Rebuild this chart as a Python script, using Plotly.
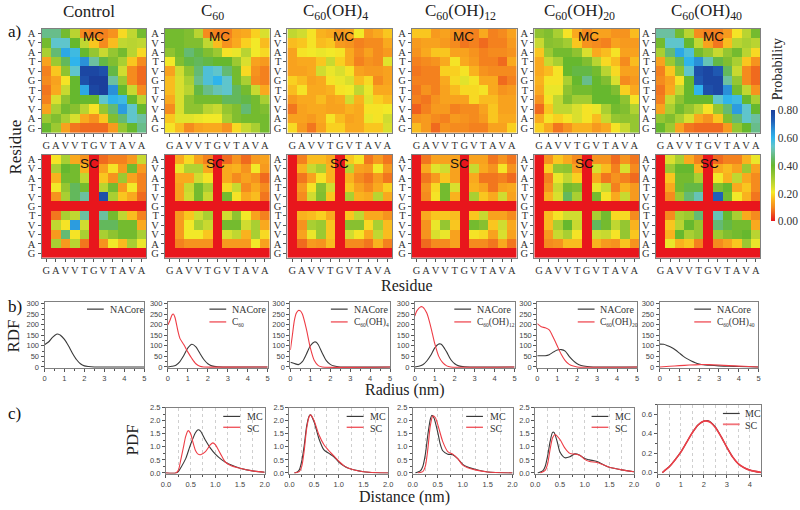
import plotly.graph_objects as go

RESIDUES = ["G", "A", "V", "V", "T", "G", "V", "T", "A", "V", "A"]
TITLES = ["Control", "C<sub>60</sub>", "C<sub>60</sub>(OH)<sub>4</sub>", "C<sub>60</sub>(OH)<sub>12</sub>",
          "C<sub>60</sub>(OH)<sub>20</sub>", "C<sub>60</sub>(OH)<sub>40</sub>"]

# heat maps: rows listed top (A) to bottom (G)
MC_CONTROL = [
 [.48,.48,.38,.28,.10,.09,.09,.11,.19,.27,.38],
 [.38,.54,.54,.40,.27,.17,.10,.16,.27,.28,.27],
 [.30,.46,.62,.58,.40,.33,.26,.33,.38,.28,.19],
 [.13,.32,.44,.60,.66,.50,.42,.36,.30,.17,.10],
 [.09,.17,.34,.54,.78,.78,.76,.42,.25,.10,.07],
 [.10,.13,.20,.40,.76,.80,.80,.50,.32,.10,.07],
 [.08,.14,.26,.40,.62,.78,.80,.66,.40,.26,.10],
 [.09,.24,.34,.40,.40,.40,.54,.60,.58,.40,.28],
 [.13,.30,.38,.35,.28,.20,.33,.46,.64,.54,.40],
 [.32,.36,.30,.24,.14,.11,.17,.36,.46,.54,.50],
 [.40,.32,.13,.08,.07,.07,.07,.12,.33,.40,.48]]
MC_C60 = [
 [.38,.38,.36,.28,.10,.09,.09,.13,.14,.18,.24],
 [.38,.38,.36,.36,.27,.16,.11,.14,.18,.21,.16],
 [.34,.38,.46,.42,.36,.32,.20,.22,.28,.21,.19],
 [.21,.36,.42,.44,.42,.40,.40,.32,.24,.13,.12],
 [.13,.25,.34,.46,.56,.54,.46,.38,.19,.11,.09],
 [.16,.24,.30,.48,.56,.60,.54,.38,.30,.10,.09],
 [.16,.24,.28,.42,.48,.52,.54,.44,.38,.26,.14],
 [.14,.24,.34,.38,.38,.38,.44,.44,.42,.38,.30],
 [.10,.24,.34,.34,.28,.26,.33,.36,.46,.38,.36],
 [.17,.23,.23,.22,.21,.21,.30,.36,.38,.38,.38],
 [.20,.16,.10,.13,.14,.14,.11,.19,.26,.30,.38]]
MC_OH4 = [
 [.27,.25,.20,.15,.14,.12,.13,.21,.12,.14,.17],
 [.16,.17,.20,.16,.17,.12,.11,.09,.10,.10,.14],
 [.13,.20,.21,.22,.21,.20,.14,.10,.13,.10,.12],
 [.13,.14,.14,.17,.26,.18,.14,.09,.11,.10,.23],
 [.13,.13,.14,.25,.22,.24,.20,.13,.12,.12,.13],
 [.18,.16,.13,.14,.20,.22,.24,.16,.19,.10,.13],
 [.16,.20,.14,.14,.15,.20,.21,.27,.22,.14,.14],
 [.12,.14,.14,.16,.13,.14,.25,.15,.23,.18,.16],
 [.08,.13,.14,.14,.13,.13,.15,.14,.20,.20,.21],
 [.13,.13,.12,.14,.20,.16,.13,.14,.22,.20,.25],
 [.19,.12,.08,.13,.18,.18,.14,.14,.17,.17,.24]]
MC_OH12 = [
 [.17,.17,.12,.13,.11,.09,.09,.14,.09,.10,.13],
 [.12,.13,.13,.12,.10,.08,.09,.07,.09,.09,.12],
 [.11,.14,.17,.17,.13,.13,.11,.09,.10,.10,.11],
 [.09,.10,.11,.14,.20,.14,.12,.09,.09,.07,.14],
 [.08,.09,.09,.18,.18,.20,.15,.11,.10,.10,.10],
 [.09,.09,.09,.14,.19,.23,.20,.14,.14,.07,.09],
 [.08,.11,.09,.13,.16,.19,.19,.20,.14,.11,.12],
 [.09,.08,.11,.13,.13,.13,.19,.16,.16,.13,.13],
 [.06,.09,.12,.12,.09,.10,.10,.13,.17,.13,.13],
 [.11,.12,.10,.09,.12,.11,.10,.12,.17,.14,.14],
 [.16,.12,.07,.11,.10,.10,.09,.09,.13,.13,.18]]
MC_OH20 = [
 [.34,.36,.30,.20,.14,.10,.13,.13,.11,.11,.16],
 [.26,.35,.34,.31,.17,.11,.10,.09,.13,.12,.12],
 [.17,.32,.38,.38,.34,.24,.14,.16,.20,.13,.13],
 [.14,.26,.30,.40,.40,.36,.28,.19,.16,.10,.16],
 [.14,.16,.20,.40,.42,.42,.38,.28,.19,.13,.13],
 [.15,.20,.20,.30,.40,.48,.40,.36,.24,.10,.12],
 [.14,.22,.22,.34,.38,.38,.40,.40,.36,.18,.14],
 [.11,.20,.27,.36,.31,.31,.40,.40,.40,.34,.20],
 [.07,.17,.27,.27,.24,.20,.22,.30,.38,.36,.29],
 [.14,.20,.18,.20,.24,.20,.16,.26,.33,.34,.33],
 [.18,.14,.08,.11,.15,.15,.12,.14,.20,.26,.33]]
MC_OH40 = [
 [.50,.50,.38,.28,.10,.09,.09,.12,.20,.28,.38],
 [.38,.54,.54,.40,.27,.13,.08,.16,.28,.30,.28],
 [.30,.46,.62,.56,.38,.33,.26,.33,.38,.28,.19],
 [.13,.32,.44,.60,.66,.52,.42,.36,.30,.17,.11],
 [.09,.17,.34,.54,.76,.78,.74,.44,.26,.10,.07],
 [.10,.13,.20,.40,.74,.78,.78,.50,.33,.10,.07],
 [.08,.14,.27,.40,.60,.76,.78,.66,.38,.27,.11],
 [.09,.26,.34,.40,.40,.40,.54,.60,.58,.40,.30],
 [.13,.30,.38,.33,.28,.20,.33,.46,.64,.54,.40],
 [.33,.36,.30,.24,.14,.11,.17,.36,.46,.54,.50],
 [.40,.32,.13,.08,.07,.07,.07,.12,.33,.40,.48]]

SC_CONTROL = [
 [0,.20,.30,.14,.11,0,.07,.09,.09,.12,.26],
 [0,.30,.40,.38,.15,0,.13,.20,.12,.38,.12],
 [0,.15,.38,.38,.27,0,.17,.11,.32,.13,.09],
 [0,.21,.33,.44,.38,0,.28,.38,.12,.21,.09],
 [0,.11,.30,.44,.50,0,.76,.30,.17,.14,.07],
 [0,0,0,0,0,0,0,0,0,0,0],
 [0,.08,.30,.27,.50,0,.50,.38,.27,.16,.09],
 [0,.27,.20,.64,.25,0,.44,.44,.38,.38,.14],
 [0,.12,.46,.20,.30,0,.30,.34,.38,.38,.30],
 [0,.30,.12,.28,.08,0,.11,.21,.16,.30,.22],
 [0,0,0,0,0,0,0,0,0,0,0]]
SC_C60 = [
 [0,.14,.19,.13,.09,0,.07,.11,.07,.12,.13],
 [0,.22,.29,.29,.14,0,.14,.15,.11,.21,.12],
 [0,.14,.14,.25,.20,0,.14,.10,.13,.11,.07],
 [0,.13,.26,.38,.30,0,.19,.26,.10,.14,.10],
 [0,.13,.25,.38,.26,0,.38,.20,.14,.16,.08],
 [0,0,0,0,0,0,0,0,0,0,0],
 [0,.12,.17,.25,.30,0,.25,.34,.21,.13,.09],
 [0,.12,.21,.30,.26,0,.38,.38,.25,.30,.14],
 [0,.12,.21,.21,.17,0,.24,.27,.15,.30,.19],
 [0,.09,.11,.11,.11,0,.12,.12,.12,.21,.13],
 [0,0,0,0,0,0,0,0,0,0,0]]
SC_OH4 = [
 [0,.09,.16,.16,.14,0,.17,.20,.08,.12,.08],
 [0,.15,.26,.30,.15,0,.28,.13,.12,.21,.12],
 [0,.08,.13,.20,.15,0,.15,.10,.08,.12,.08],
 [0,.12,.20,.35,.25,0,.17,.13,.10,.14,.18],
 [0,.10,.25,.36,.17,0,.30,.15,.14,.28,.14],
 [0,0,0,0,0,0,0,0,0,0,0],
 [0,.15,.16,.18,.14,0,.17,.27,.14,.14,.11],
 [0,.11,.30,.32,.17,0,.35,.35,.19,.30,.16],
 [0,.13,.22,.32,.17,0,.25,.20,.14,.27,.16],
 [0,.07,.12,.11,.16,0,.10,.10,.08,.15,.09],
 [0,0,0,0,0,0,0,0,0,0,0]]
SC_OH12 = [
 [0,.08,.13,.13,.13,0,.13,.13,.08,.11,.08],
 [0,.14,.23,.25,.13,0,.26,.14,.11,.20,.11],
 [0,.08,.12,.17,.13,0,.14,.08,.08,.09,.07],
 [0,.11,.19,.38,.24,0,.15,.13,.08,.13,.14],
 [0,.10,.20,.38,.15,0,.30,.17,.14,.25,.13],
 [0,0,0,0,0,0,0,0,0,0,0],
 [0,.14,.17,.17,.16,0,.17,.26,.13,.13,.10],
 [0,.11,.22,.33,.17,0,.38,.35,.17,.25,.14],
 [0,.11,.24,.22,.13,0,.20,.19,.13,.24,.13],
 [0,.07,.10,.10,.13,0,.10,.10,.08,.14,.08],
 [0,0,0,0,0,0,0,0,0,0,0]]
SC_OH20 = [
 [0,.11,.17,.14,.10,0,.11,.11,.07,.11,.08],
 [0,.18,.33,.34,.13,0,.24,.16,.09,.24,.10],
 [0,.09,.22,.27,.18,0,.14,.08,.11,.09,.07],
 [0,.11,.26,.38,.36,0,.22,.26,.09,.15,.12],
 [0,.15,.24,.44,.30,0,.38,.20,.14,.26,.12],
 [0,0,0,0,0,0,0,0,0,0,0],
 [0,.16,.20,.25,.25,0,.30,.38,.19,.19,.10],
 [0,.16,.30,.40,.26,0,.44,.38,.27,.33,.15],
 [0,.12,.26,.30,.20,0,.25,.26,.20,.33,.17],
 [0,.10,.11,.16,.16,0,.15,.12,.11,.17,.11],
 [0,0,0,0,0,0,0,0,0,0,0]]
SC_OH40 = [
 [0,.24,.30,.14,.09,0,.07,.09,.09,.15,.22],
 [0,.32,.40,.40,.15,0,.14,.16,.13,.32,.13],
 [0,.17,.38,.38,.30,0,.21,.15,.27,.14,.10],
 [0,.14,.38,.42,.42,0,.36,.40,.14,.17,.10],
 [0,.10,.32,.46,.52,0,.72,.38,.21,.15,.08],
 [0,0,0,0,0,0,0,0,0,0,0],
 [0,.10,.30,.32,.46,0,.52,.40,.30,.14,.10],
 [0,.17,.28,.40,.33,0,.46,.42,.38,.38,.14],
 [0,.15,.40,.30,.33,0,.32,.36,.38,.40,.28],
 [0,.22,.15,.17,.09,0,.10,.13,.17,.32,.22],
 [0,0,0,0,0,0,0,0,0,0,0]]

# radial distribution functions
R1_NA_X = [0,.2,.4,.6,.7,.8,1,1.2,1.4,1.6,1.8,2,2.2,2.5,5]
R1_NA_Y = [105,118,140,155,155,150,130,100,65,35,15,5,2,0,0]
R2_NA_X = [0,.2,.4,.6,.8,1,1.2,1.4,1.6,1.8,2,2.2,2.5,5]
R2_NA_Y = [0,3,8,25,55,90,107,95,65,35,15,5,1,0]
R2_C_X = [0,.1,.2,.27,.35,.5,.6,.8,1,1.2,1.4,1.6,1.8,5]
R2_C_Y = [200,220,245,250,235,170,135,105,70,40,15,3,0,0]
R3_NA_X = [0,.2,.4,.6,.8,1,1.2,1.3,1.4,1.6,1.8,2,2.2,2.5,5]
R3_NA_Y = [22,16,11,25,60,100,118,117,105,65,30,12,4,0,0]
R3_C_X = [0,.1,.2,.3,.4,.5,.6,.8,1,1.2,1.4,1.6,5]
R3_C_Y = [80,150,220,255,267,265,250,180,90,30,6,0,0]
R4_NA_X = [0,.2,.4,.6,.8,1,1.2,1.3,1.4,1.6,1.8,2,2.2,2.5,5]
R4_NA_Y = [0,3,10,28,55,90,108,108,100,70,35,15,5,1,0]
R4_C_X = [0,.1,.3,.4,.6,.8,1,1.2,1.4,1.6,1.8,5]
R4_C_Y = [240,265,285,283,255,190,110,50,20,5,0,0]
R5_NA_X = [0,.2,.4,.6,.8,1,1.2,1.4,1.6,1.8,2,2.2,2.5,2.8,5]
R5_NA_Y = [53,53,53,58,70,80,82,75,50,30,15,7,2,0,0]
R5_C_X = [0,.2,.4,.6,.8,1,1.2,1.4,1.6,1.8,2,5]
R5_C_Y = [205,190,185,175,140,100,60,30,12,4,0,0]
R6_NA_X = [0,.2,.4,.6,.8,1,1.2,1.4,1.6,1.8,2,2.2,2.5,3,3.5,4,5]
R6_NA_Y = [108,107,100,92,80,65,50,38,28,20,14,10,8,5,3,2,0]
R6_C_X = [0,.5,1,1.5,2,2.5,3,3.5,4,4.5,5]
R6_C_Y = [0,3,6,9,11,11,9,6,4,2,0]

# pair distance distributions
P2_MC_X = [0,.2,.25,.3,.4,.5,.6,.65,.7,.8,.9,1,1.1,1.2,1.3,1.5,1.75,2]
P2_MC_Y = [0,0,.05,.2,.55,1.1,1.55,1.65,1.6,1.25,.95,.72,.55,.42,.32,.18,.08,.03]
P2_SC_X = [0,.2,.25,.3,.35,.4,.45,.5,.55,.6,.65,.7,.8,.9,.95,1,1.1,1.2,1.3,1.5,1.75,2]
P2_SC_Y = [0,0,.1,.5,.95,1.4,1.62,1.5,1.15,.85,.72,.7,.82,1.08,1.15,1.08,.75,.42,.3,.18,.08,.03]
P3_MC_X = [.1,.15,.2,.25,.3,.35,.4,.43,.5,.6,.7,.8,.9,1,1.1,1.2,1.5,1.75,2]
P3_MC_Y = [0,.03,.12,.45,1.05,1.8,2.18,2.22,1.95,1.3,.88,.75,.62,.42,.28,.18,.05,.01,0]
P3_SC_X = [.1,.2,.25,.3,.35,.4,.43,.5,.6,.7,.8,.9,1,1.1,1.2,1.5,2]
P3_SC_Y = [0,.05,.25,.85,1.7,2.15,2.22,2.0,1.45,1.08,.85,.65,.45,.28,.18,.05,0]
P4_MC_X = [.05,.15,.2,.25,.3,.35,.38,.42,.5,.55,.6,.7,.8,.9,1,1.1,1.25,1.5,2]
P4_MC_Y = [0,.08,.25,.7,1.45,2.05,2.2,2.12,1.55,1.1,.85,.72,.7,.55,.33,.23,.14,.04,0]
P4_SC_X = [.1,.2,.25,.3,.35,.4,.45,.5,.6,.7,.8,.9,1,1.1,1.25,1.5,2]
P4_SC_Y = [0,.05,.25,.9,1.8,2.18,2.12,1.85,1.2,.82,.72,.55,.3,.2,.12,.04,0]
P5_MC_X = [.05,.15,.2,.25,.3,.35,.38,.45,.5,.6,.7,.8,.9,1,1.1,1.25,1.4,1.5,1.75,2]
P5_MC_Y = [0,.08,.25,.65,1.2,1.55,1.55,1.15,.8,.58,.62,.73,.68,.55,.5,.44,.3,.22,.12,.05]
P5_SC_X = [.1,.2,.25,.3,.35,.4,.5,.6,.7,.8,.9,1,1.1,1.25,1.4,1.5,1.75,2]
P5_SC_Y = [0,.1,.35,.9,1.35,1.47,1.28,.95,.75,.72,.68,.52,.44,.4,.3,.22,.12,.05]
P6_MC_X = [.2,.3,.5,.75,1,1.25,1.5,1.75,2,2.15,2.3,2.5,2.75,3,3.25,3.5,3.75,4,4.5]
P6_MC_Y = [0,.02,.06,.13,.21,.31,.41,.49,.53,.535,.52,.47,.37,.26,.16,.09,.05,.025,0]
P6_SC_Y = [0,.02,.06,.13,.21,.31,.41,.49,.53,.53,.515,.465,.37,.26,.16,.09,.05,.025,0]

W, H = 800, 510
SERIF = "Liberation Serif"
SANS = "Liberation Sans"
BLACK = "#3a3a3a"
RED = "#ee3d46"
FRAME = "#808080"

COLORSCALE = [[0, "#e8161c"], [.07, "#ee5a1e"], [.12, "#f5881e"], [.18, "#f9ac1e"], [.225, "#f9d020"],
              [.26, "#f4ea28"], [.3125, "#d0dc30"], [.375, "#a9cf32"], [.4375, "#88c030"], [.5, "#66b82e"],
              [.5625, "#62b868"], [.625, "#6cc0a0"], [.675, "#5fc5cc"], [.75, "#2fb4ec"], [.825, "#2a90d8"],
              [.9, "#2060b8"], [1, "#1b3f9c"]]

fig = go.Figure()
layout = {}
count = 0


def new_axes(x0, x1, y0, y1):
    global count
    count += 1
    s = "" if count == 1 else str(count)
    xa = dict(domain=[x0 / W, x1 / W], anchor="y" + s, showline=True, mirror=True, linecolor=FRAME, linewidth=1,
              zeroline=False, showgrid=False, ticks="outside", ticklen=3, tickcolor="#555", tickwidth=1)
    ya = dict(domain=[1 - y1 / H, 1 - y0 / H], anchor="x" + s, showline=True, mirror=True, linecolor=FRAME, linewidth=1,
              zeroline=False, showgrid=False, ticks="outside", ticklen=3, tickcolor="#555", tickwidth=1)
    layout["xaxis" + s] = xa
    layout["yaxis" + s] = ya
    return "x" + s, "y" + s, xa, ya


def heat(z, x0, x1, y0, y1):
    xn, yn, xa, ya = new_axes(x0, x1, y0, y1)
    fig.add_trace(go.Heatmap(z=z, x=list(range(11)), y=list(range(10, -1, -1)), coloraxis="coloraxis",
                             xaxis=xn, yaxis=yn))
    letter = dict(family=SERIF, size=10.5, color="#333")
    xa.update(range=[-.5, 10.5], tickvals=list(range(11)), ticktext=RESIDUES, tickfont=letter, tickangle=0,
              ticklabelstandoff=-1)
    ya.update(range=[-.5, 10.5], tickvals=list(range(11)), ticktext=RESIDUES, tickfont=letter, tickangle=0)


def curve_axes(box, xrange, yrange, xd, yd, xminor, yminor, fmt):
    xn, yn, xa, ya = new_axes(*box)
    f = dict(family=SANS, size=7.5, color="#444")
    xa.update(range=xrange, dtick=xd, tickfont=f, tickformat=fmt, tick0=0,
              minor=dict(dtick=xminor, ticks="outside", ticklen=2, tickcolor="#555"))
    ya.update(range=yrange, dtick=yd, tickfont=f, tick0=0,
              minor=dict(dtick=yminor, ticks="outside", ticklen=2, tickcolor="#555"))
    return xn, yn, xa, ya


def line(x, y, color, xn, yn, width=1.1):
    fig.add_trace(go.Scatter(x=x, y=y, mode="lines", xaxis=xn, yaxis=yn,
                             line=dict(color=color, width=width, shape="spline", smoothing=.7)))


def text(px, py, s, size, family=SERIF, angle=0, anchor="center", color="#222"):
    ann.append(dict(x=px / W, y=1 - py / H, xref="paper", yref="paper", text=s, showarrow=False, xanchor=anchor,
                    yanchor="middle", textangle=angle, font=dict(family=family, size=size, color=color)))


def swatch(x0, x1, py, color, width=1.2):
    shp.append(dict(type="line", xref="paper", yref="paper", x0=x0 / W, x1=x1 / W, y0=1 - py / H, y1=1 - py / H,
                    line=dict(color=color, width=width)))


def small_sub(label):
    return label.replace("<sub>", "<sub><span style='font-size:5.5px'>").replace("</sub>", "</span></sub>")


ann, shp = [], []

HEAT_X = [(37, 143), (162, 268), (286, 392), (412, 518), (536, 642), (659, 765)]
MC = [MC_CONTROL, MC_C60, MC_OH4, MC_OH12, MC_OH20, MC_OH40]
SC = [SC_CONTROL, SC_C60, SC_OH4, SC_OH12, SC_OH20, SC_OH40]
TITLE_X = [85, 210, 335, 461, 582, 710]
MC_X = [90, 217, 343, 464, 591, 717]
SC_X = [86, 213, 339, 460, 587, 713]
for i, (a, b) in enumerate(HEAT_X):
    heat(MC[i], a, b, 25, 131)
    heat(SC[i], a, b, 153, 258)
    text(TITLE_X[i], 8, TITLES[i], 17)
    text(MC_X[i], 33, "MC", 13.5, SANS, color="#111")
    text(SC_X[i], 162, "SC", 13.5, SANS, color="#111")

RDF_BOX = [(40, 141), (165, 266), (289, 390), (415, 516), (539, 640), (663, 763)]
RDF_NA = [(R1_NA_X, R1_NA_Y), (R2_NA_X, R2_NA_Y), (R3_NA_X, R3_NA_Y), (R4_NA_X, R4_NA_Y), (R5_NA_X, R5_NA_Y), (R6_NA_X, R6_NA_Y)]
RDF_C = [None, (R2_C_X, R2_C_Y), (R3_C_X, R3_C_Y), (R4_C_X, R4_C_Y), (R5_C_X, R5_C_Y), (R6_C_X, R6_C_Y)]
RDF_LEG = [83, 207, 330, 455, 580, 698]
for i, (a, b) in enumerate(RDF_BOX):
    xn, yn, xa, ya = curve_axes((a, b, 303, 370), [0, 5], [-6, 306], 1, 50, .5, 25, "d")
    line(*RDF_NA[i], BLACK, xn, yn)
    lx = RDF_LEG[i]
    swatch(lx, lx + 17, 310, BLACK)
    text(lx + 21, 310, "NACore", 10, anchor="left", color="#333")
    if RDF_C[i]:
        line(*RDF_C[i], RED, xn, yn)
        swatch(lx, lx + 17, 323, RED)
        text(lx + 21, 324, small_sub(TITLES[i]), 9.5, anchor="left", color="#333")

PDF_BOX = [(163, 263), (288, 388), (413, 514), (537, 637)]
PDF_MC = [(P2_MC_X, P2_MC_Y), (P3_MC_X, P3_MC_Y), (P4_MC_X, P4_MC_Y), (P5_MC_X, P5_MC_Y)]
PDF_SC = [(P2_SC_X, P2_SC_Y), (P3_SC_X, P3_SC_Y), (P4_SC_X, P4_SC_Y), (P5_SC_X, P5_SC_Y)]
PDF_LEG = [221, 346, 467, 594]
GRID = dict(showgrid=True, griddash="dot", gridcolor="#cfcfcf", gridwidth=1)
for i, (a, b) in enumerate(PDF_BOX):
    xn, yn, xa, ya = curve_axes((a, b, 410, 477), [0, 2], [-.02, 2.5], .5, .5, .25, .25, ".1f")
    xa.update(**GRID)
    xa["minor"].update(**GRID)
    ya.update(tickformat=".1f")
    line(*PDF_MC[i], BLACK, xn, yn)
    line(*PDF_SC[i], RED, xn, yn)
    lx = PDF_LEG[i]
    swatch(lx, lx + 17, 419, BLACK)
    swatch(lx, lx + 17, 430, RED)
    text(lx + 22, 419, "MC", 10, anchor="left", color="#333")
    text(lx + 22, 431, "SC", 10, anchor="left", color="#333")

xn, yn, xa, ya = curve_axes((661, 766, 407, 477), [0, 4.5], [-.01, .7], 1, .2, .5, .1, "d")
xa.update(**GRID)
xa["minor"].update(**GRID)
ya.update(tickformat=".1f")
line(P6_MC_X, P6_MC_Y, BLACK, xn, yn)
line(P6_MC_X, P6_SC_Y, RED, xn, yn, 1.6)
swatch(727, 744, 416, BLACK)
swatch(727, 744, 427, "#f2737a", 1.8)
text(747, 416, "MC", 10, anchor="left", color="#333")
text(747, 428, "SC", 10, anchor="left", color="#333")

text(1, 28, "a)", 17, anchor="left", color="#111")
text(1, 307, "b)", 17, anchor="left", color="#111")
text(1, 416, "c)", 17, anchor="left", color="#111")
text(11, 145, "Residue", 17, angle=-90)
text(407, 286, "Residue", 16)
text(405, 392, "Radius (nm)", 16)
text(405, 501, "Distance (nm)", 16)
text(9, 337, "RDF", 17, angle=-90)
text(129, 443, "PDF", 17, angle=-90)
text(783, 66, "Probability", 14, angle=-90)

fig.update_layout(
    width=W, height=H, margin=dict(l=0, r=0, t=0, b=0), paper_bgcolor="white", plot_bgcolor="white",
    showlegend=False, annotations=ann, shapes=shp,
    coloraxis=dict(cmin=0, cmax=.8, colorscale=COLORSCALE,
                   colorbar=dict(x=776 / W, xanchor="left", y=1 - 108 / H, yanchor="top", xpad=0, ypad=0,
                                 thickness=4, thicknessmode="pixels", len=111, lenmode="pixels",
                                 outlinewidth=0, ticks="", tickvals=[0, .2, .4, .6, .8], tickformat=".2f",
                                 tickfont=dict(family=SERIF, size=11.5, color="#333"))),
    **layout)
fig.write_html("out.html", config={"displayModeBar": False},
               post_script="document.body.style.margin='0';document.body.style.overflow='hidden';")
